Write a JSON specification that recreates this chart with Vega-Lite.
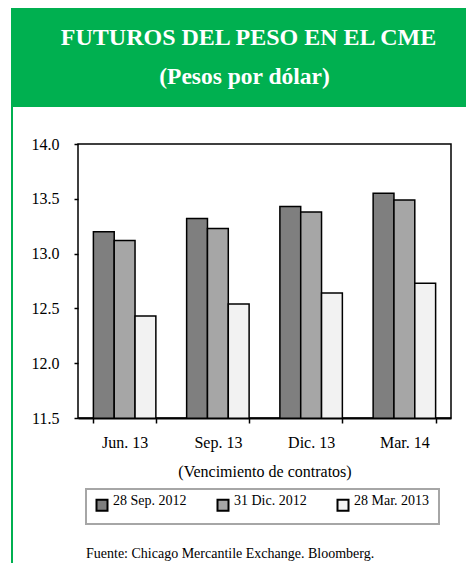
{
  "$schema": "https://vega.github.io/schema/vega-lite/v6.json",
  "padding": {"top": 8, "left": 11, "right": 0, "bottom": 0},
  "background": "white",
  "config": {"font": "Liberation Serif, serif"},
  "spacing": 0,
  "vconcat": [
    {
      "width": 455,
      "height": 99,
      "view": {"fill": "#00B050", "stroke": null},
      "layer": [
        {
          "data": {"values": [{"line": "a", "label": "FUTUROS DEL PESO EN EL CME"}]},
          "mark": {"type": "text", "fontSize": 24, "fontWeight": "bold", "color": "white", "dx": 10, "font": "Liberation Serif, serif"},
          "encoding": {
            "y": {"field": "line", "type": "ordinal", "scale": {"type": "point", "domain": ["a", "b"], "padding": 0.8}, "axis": null},
            "text": {"field": "label"}
          }
        },
        {
          "data": {"values": [{"line": "b", "label": "(Pesos por dólar)"}]},
          "mark": {"type": "text", "fontSize": 23.5, "fontWeight": "bold", "color": "white", "dx": 6, "font": "Liberation Serif, serif"},
          "encoding": {
            "y": {"field": "line", "type": "ordinal", "scale": {"type": "point", "domain": ["a", "b"], "padding": 0.8}, "axis": null},
            "text": {"field": "label"}
          }
        }
      ]
    },
    {
      "spacing": 17,
      "hconcat": [
        {
          "width": 2,
          "height": 456,
          "view": {"fill": "#00B050", "stroke": null},
          "data": {"values": [{"k": "x"}]},
          "mark": "text",
          "encoding": {"text": {"value": ""}}
        },
        {
          "spacing": 0,
          "vconcat": [
            {
              "width": 373,
              "height": 28,
              "view": {"stroke": null},
              "data": {"values": [{"k": "x"}]},
              "mark": "text",
              "encoding": {"text": {"value": ""}}
            },
            {
              "width": 373,
              "height": 274,
              "title": {"text": "Fuente: Chicago Mercantile Exchange. Bloomberg.", "orient": "bottom", "anchor": "start", "frame": "group", "fontSize": 14, "fontWeight": "normal", "font": "Liberation Serif, serif", "color": "black", "offset": 68, "dx": 8},
              "view": {"stroke": "black", "strokeWidth": 1.5, "fill": "white"},
              "data": {"values": [
                {"contrato": "Jun. 13", "fecha": "28 Sep. 2012", "valor": 13.20},
                {"contrato": "Jun. 13", "fecha": "31 Dic. 2012", "valor": 13.12},
                {"contrato": "Jun. 13", "fecha": "28 Mar. 2013", "valor": 12.43},
                {"contrato": "Sep. 13", "fecha": "28 Sep. 2012", "valor": 13.32},
                {"contrato": "Sep. 13", "fecha": "31 Dic. 2012", "valor": 13.23},
                {"contrato": "Sep. 13", "fecha": "28 Mar. 2013", "valor": 12.54},
                {"contrato": "Dic. 13", "fecha": "28 Sep. 2012", "valor": 13.43},
                {"contrato": "Dic. 13", "fecha": "31 Dic. 2012", "valor": 13.38},
                {"contrato": "Dic. 13", "fecha": "28 Mar. 2013", "valor": 12.64},
                {"contrato": "Mar. 14", "fecha": "28 Sep. 2012", "valor": 13.55},
                {"contrato": "Mar. 14", "fecha": "31 Dic. 2012", "valor": 13.49},
                {"contrato": "Mar. 14", "fecha": "28 Mar. 2013", "valor": 12.73}
              ]},
              "mark": {"type": "bar", "stroke": "black", "strokeWidth": 1.5, "clip": true},
              "encoding": {
                "x": {
                  "field": "contrato", "type": "nominal",
                  "sort": ["Jun. 13", "Sep. 13", "Dic. 13", "Mar. 14"],
                  "scale": {"paddingInner": 0.33, "paddingOuter": 0.165},
                  "axis": {
                    "title": "(Vencimiento de contratos)", "titleFontSize": 16, "titleFont": "Liberation Serif, serif", "titleFontWeight": "normal", "titleColor": "black", "titlePadding": 13,
                    "labelFontSize": 16, "labelFont": "Liberation Serif, serif", "labelColor": "black", "labelAngle": 0, "labelPadding": 11,
                    "tickSize": 5, "tickColor": "black", "tickWidth": 1.5, "tickBand": "extent",
                    "domainColor": "black", "domainWidth": 2, "zindex": 1
                  }
                },
                "xOffset": {"field": "fecha", "type": "nominal", "sort": ["28 Sep. 2012", "31 Dic. 2012", "28 Mar. 2013"], "scale": {"paddingInner": 0, "paddingOuter": 0}},
                "y": {
                  "field": "valor", "type": "quantitative",
                  "scale": {"domain": [11.5, 14], "zero": false, "nice": false},
                  "axis": {
                    "title": null, "values": [11.5, 12, 12.5, 13, 13.5, 14], "format": ".1f",
                    "domain": false, "grid": false, "tickSize": 4, "tickWidth": 1.5, "tickColor": "black",
                    "labelFontSize": 16, "labelFont": "Liberation Serif, serif", "labelColor": "black", "labelPadding": 15
                  }
                },
                "fill": {
                  "field": "fecha", "type": "nominal",
                  "sort": ["28 Sep. 2012", "31 Dic. 2012", "28 Mar. 2013"],
                  "scale": {"domain": ["28 Sep. 2012", "31 Dic. 2012", "28 Mar. 2013"], "range": ["#7f7f7f", "#a6a6a6", "#f2f2f2"]},
                  "legend": {
                    "title": null, "orient": "none", "legendX": 75, "legendY": 481, "direction": "horizontal",
                    "symbolType": "square", "symbolSize": 121, "symbolStrokeColor": "black", "symbolStrokeWidth": 2, "symbolOpacity": 1,
                    "labelFontSize": 14, "labelFont": "Liberation Serif, serif", "labelColor": "black", "labelOffset": 4, "labelBaseline": "alphabetic",
                    "columnPadding": 26, "padding": 9, "strokeColor": "#a6a6a6", "fillColor": "white",
                    "encode": {"legend": {"update": {"strokeWidth": {"value": 2}}}}
                  }
                }
              }
            }
          ]
        }
      ]
    }
  ]
}
